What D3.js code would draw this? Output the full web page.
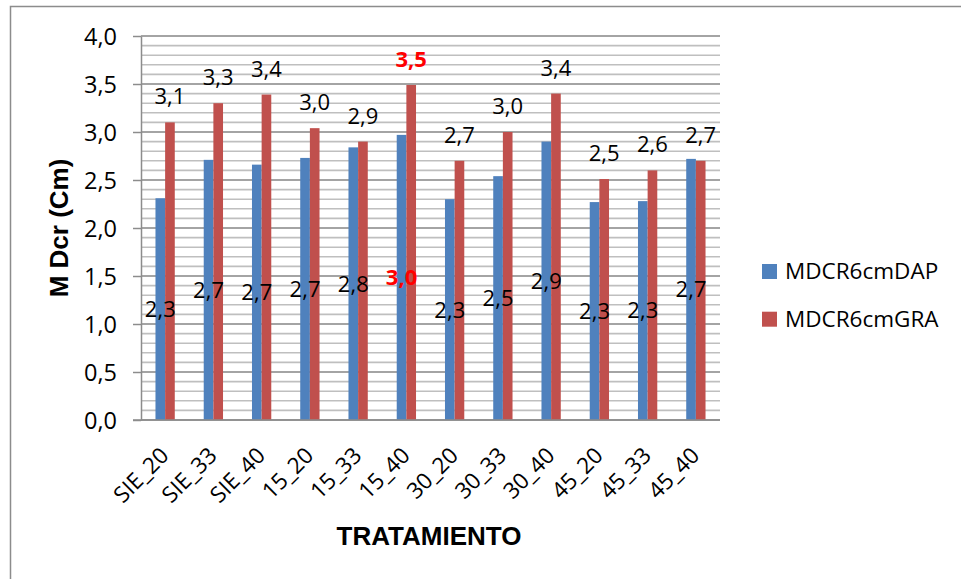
<!DOCTYPE html>
<html>
<head>
<meta charset="utf-8">
<script src="https://cdn.jsdelivr.net/npm/d3@7"></script>
<style>
  html, body { margin: 0; padding: 0; background: #fff; }
  svg { display: block; }
</style>
</head>
<body>
<svg id="chart" width="961" height="579"></svg>
<script>
const categories = ["SIE_20","SIE_33","SIE_40","15_20","15_33","15_40","30_20","30_33","30_40","45_20","45_33","45_40"];
const seriesNames = ["MDCR6cmDAP", "MDCR6cmGRA"];
const dapValues = [2.31, 2.71, 2.66, 2.73, 2.84, 2.97, 2.30, 2.54, 2.90, 2.27, 2.28, 2.72];
const graValues = [3.10, 3.30, 3.39, 3.04, 2.90, 3.49, 2.70, 3.00, 3.40, 2.51, 2.60, 2.70];
const highlightCategory = "15_40";
const yDomain = [0, 4];
const yTitle = "M Dcr (Cm)";
const xTitle = "TRATAMIENTO";

const colors = { MDCR6cmDAP: "#4f81bd", MDCR6cmGRA: "#c0504d" };
const fmt = v => d3.format(".1f")(v).replace(".", ",");
const labelFont = "'Open Sans', 'Noto Sans', sans-serif";
const titleFont = "'Liberation Sans', Arial, sans-serif";

const svg = d3.select("#chart");

// outer frame (left and top visible)
svg.append("path")
  .attr("d", "M10.5,579 L10.5,6.5 L961,6.5")
  .attr("fill", "none").attr("stroke", "#8c8c8c").attr("stroke-width", 1.5);

const plot = { left: 141, right: 720, top: 36, bottom: 420 };

const x = d3.scaleBand().domain(categories).range([plot.left, plot.right])
  .paddingInner(0.6).paddingOuter(0.3);
const x1 = d3.scaleBand().domain(seriesNames).range([0, x.bandwidth()]);
const y = d3.scaleLinear().domain(yDomain).range([plot.bottom, plot.top]);

// minor gridlines
svg.append("g").selectAll("line").data(y.ticks(40)).join("line")
  .attr("x1", plot.left).attr("x2", plot.right)
  .attr("y1", d => y(d)).attr("y2", d => y(d))
  .attr("stroke", "#bfbfbf").attr("stroke-width", 1.6);
// major gridlines
svg.append("g").selectAll("line").data(y.ticks(8)).join("line")
  .attr("x1", plot.left).attr("x2", plot.right)
  .attr("y1", d => y(d)).attr("y2", d => y(d))
  .attr("stroke", "#969696").attr("stroke-width", 1.6);

// y axis
const yAxis = svg.append("g").attr("transform", `translate(${plot.left},0)`)
  .call(d3.axisLeft(y).ticks(8).tickFormat(fmt).tickSize(8).tickSizeOuter(0).tickPadding(16));
yAxis.select(".domain").attr("stroke", "#8c8c8c").attr("stroke-width", 1.5);
yAxis.selectAll(".tick line").attr("stroke", "#8c8c8c").attr("stroke-width", 1.5);
yAxis.selectAll(".tick text").attr("font-family", labelFont).attr("font-size", 23.5).attr("fill", "#000")
  .attr("dy", "0.34em");

// bars
const rows = categories.map((c, i) => ({ cat: c, MDCR6cmDAP: dapValues[i], MDCR6cmGRA: graValues[i] }));
const groups = svg.append("g").selectAll("g").data(rows).join("g")
  .attr("transform", d => `translate(${x(d.cat)},0)`);
groups.selectAll("rect").data(d => seriesNames.map(s => ({ s, v: d[s] }))).join("rect")
  .attr("x", d => x1(d.s)).attr("width", x1.bandwidth())
  .attr("y", d => y(d.v)).attr("height", d => y(0) - y(d.v))
  .attr("fill", d => colors[d.s]);

// x axis
const xAxis = svg.append("g").attr("transform", `translate(0,${plot.bottom})`)
  .call(d3.axisBottom(x).tickSize(0).tickSizeOuter(0));
xAxis.select(".domain").attr("stroke", "#8c8c8c").attr("stroke-width", 1.5)
  .attr("d", `M${plot.left - 8},0H${plot.right}`);
xAxis.selectAll(".tick text")
  .attr("x", 0).attr("y", 0).attr("dy", 0)
  .attr("text-anchor", "end")
  .attr("transform", "translate(5,37) rotate(-45)")
  .attr("font-family", labelFont).attr("font-size", 22.5).attr("fill", "#000");

// data labels
const lab = svg.append("g");
rows.forEach(d => {
  const hi = d.cat === highlightCategory;
  // DAP: centered in bar
  lab.append("text")
    .attr("x", x(d.cat) + x1("MDCR6cmDAP") + x1.bandwidth() / 2)
    .attr("y", (y(d.MDCR6cmDAP) + y(0)) / 2)
    .attr("dy", "0.36em")
    .attr("text-anchor", "middle")
    .attr("font-family", labelFont).attr("font-size", 22)
    .attr("font-weight", hi ? "bold" : "normal")
    .attr("fill", hi ? "#ff0000" : "#000")
    .text(fmt(d.MDCR6cmDAP));
  // GRA: above bar
  lab.append("text")
    .attr("x", x(d.cat) + x1("MDCR6cmGRA") + x1.bandwidth() / 2)
    .attr("y", y(d.MDCR6cmGRA) - 18)
    .attr("text-anchor", "middle")
    .attr("font-family", labelFont).attr("font-size", 22)
    .attr("font-weight", hi ? "bold" : "normal")
    .attr("fill", hi ? "#ff0000" : "#000")
    .text(fmt(d.MDCR6cmGRA));
});

// axis titles
svg.append("text")
  .attr("transform", "translate(68,228) rotate(-90)")
  .attr("text-anchor", "middle")
  .attr("font-family", titleFont).attr("font-weight", "bold").attr("font-size", 26)
  .text(yTitle);
svg.append("text")
  .attr("x", 429).attr("y", 545)
  .attr("text-anchor", "middle")
  .attr("font-family", titleFont).attr("font-weight", "bold").attr("font-size", 26)
  .text(xTitle);

// legend
const leg = svg.append("g").selectAll("g").data(seriesNames).join("g")
  .attr("transform", (d, i) => `translate(762,${264 + i * 47.7})`);
leg.append("rect").attr("width", 15).attr("height", 15).attr("fill", d => colors[d]);
leg.append("text").attr("x", 23).attr("y", 15)
  .attr("font-family", labelFont).attr("font-size", 22.5).attr("fill", "#000")
  .text(d => d);
</script>
</body>
</html>
